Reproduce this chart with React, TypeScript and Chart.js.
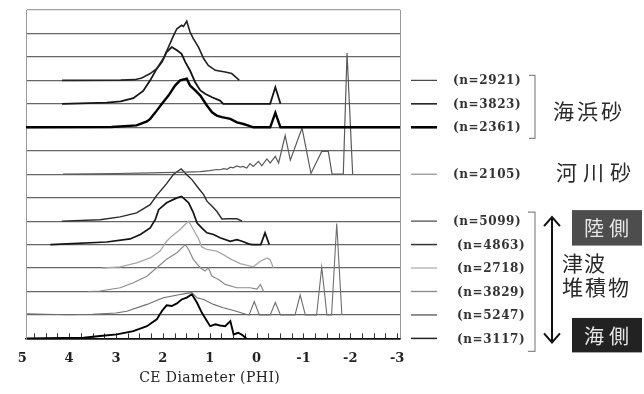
import React, { useEffect, useRef } from 'react';
import { Chart, registerables } from 'chart.js';

Chart.register(...registerables);

// ---- Data: CE diameter (phi) and relative frequency (in row units) ----
const PHI_2921 = [4.15, 2.9, 2.6, 2.45, 2.27, 2.13, 1.99, 1.88, 1.77, 1.7, 1.6, 1.56, 1.49, 1.42, 1.35, 1.24, 1.13, 1.03, 0.88, 0.67, 0.53, 0.39, 0.37];
const VAL_2921 = [0, 0.01, 0.03, 0.1, 0.29, 0.5, 0.93, 1.42, 1.92, 2.2, 2.35, 2.3, 2.52, 2.06, 1.78, 1.42, 0.93, 0.64, 0.43, 0.36, 0.29, 0.04, 0];

const PHI_3823 = [4.15, 3.2, 2.9, 2.63, 2.42, 2.27, 2.13, 2.02, 1.92, 1.81, 1.7, 1.6, 1.52, 1.42, 1.31, 1.2, 1.1, 0.95, 0.78, 0.71, -0.29, -0.4, -0.51];
const VAL_3823 = [0, 0.05, 0.1, 0.24, 0.55, 1.0, 1.5, 1.78, 2.2, 2.42, 2.28, 2.13, 1.78, 1.42, 0.92, 0.57, 0.43, 0.28, 0.14, 0, 0, 0.71, 0];

const PHI_2361 = [4.92, 3.1, 2.56, 2.34, 2.27, 2.13, 2.02, 1.88, 1.74, 1.63, 1.49, 1.42, 1.31, 1.2, 1.06, 0.95, 0.85, 0.74, 0.56, 0.42, 0.28, 0.14, 0.07, -0.29, -0.4, -0.51, -3.06];
const VAL_2361 = [0, 0.01, 0.08, 0.25, 0.36, 0.71, 1.0, 1.35, 1.78, 2.0, 2.07, 1.78, 1.57, 1.35, 0.93, 0.64, 0.5, 0.43, 0.36, 0.21, 0.14, 0.05, 0, 0, 0.62, 0, 0];

const PHI_2105 = [4.13, 3.5, 3.0, 2.5, 2.0, 1.5, 1.2, 1.0, 0.85, 0.78, 0.7, 0.63, 0.56, 0.5, 0.42, 0.35, 0.29, 0.21, 0.14, 0.07, -0.04, -0.11, -0.22, -0.29, -0.4, -0.47, -0.61, -0.72, -0.97, -1.16, -1.39, -1.53, -1.61, -1.85, -1.93, -2.05];
const VAL_2105 = [0, 0.01, 0.03, 0.05, 0.07, 0.09, 0.11, 0.15, 0.2, 0.19, 0.24, 0.21, 0.3, 0.27, 0.35, 0.3, 0.33, 0.26, 0.45, 0.33, 0.55, 0.36, 0.65, 0.48, 0.76, 0.48, 1.65, 0.6, 1.97, 0.03, 0.97, 0.97, 0, 0, 5.17, 0];

const PHI_5099 = [4.15, 3.34, 2.91, 2.56, 2.27, 2.13, 1.92, 1.77, 1.61, 1.49, 1.38, 1.24, 1.13, 1.06, 0.95, 0.85, 0.74, 0.6, 0.42, 0.31];
const VAL_5099 = [0, 0.06, 0.18, 0.35, 0.7, 1.1, 1.6, 2.0, 2.23, 1.98, 1.77, 1.4, 1.13, 0.85, 0.63, 0.42, 0.09, 0.1, 0.1, 0];

const PHI_4863 = [4.4, 3.2, 2.7, 2.48, 2.27, 2.16, 2.09, 1.92, 1.7, 1.6, 1.45, 1.35, 1.27, 1.17, 1.06, 0.92, 0.78, 0.56, 0.42, 0.31, 0.17, 0.1, -0.09, -0.18, -0.27];
const VAL_4863 = [0, 0.11, 0.24, 0.43, 0.71, 1.07, 1.49, 1.78, 1.99, 2.05, 1.78, 1.36, 0.92, 0.71, 0.5, 0.43, 0.29, 0.14, 0.21, 0.14, 0.03, 0, 0, 0.5, 0];

const PHI_2718 = [3.3, 2.91, 2.56, 2.27, 2.06, 1.92, 1.81, 1.63, 1.49, 1.45, 1.35, 1.24, 1.17, 1.06, 0.85, 0.71, 0.53, 0.35, 0.07, -0.08, -0.22, -0.29, -0.36];
const VAL_2718 = [0, 0.05, 0.22, 0.43, 0.72, 1.14, 1.36, 1.64, 1.93, 2.0, 1.64, 1.25, 0.9, 0.79, 0.72, 0.57, 0.36, 0.19, 0.05, 0.29, 0.43, 0.35, 0];

const PHI_3829 = [3.6, 3.34, 2.91, 2.63, 2.34, 2.13, 1.92, 1.7, 1.52, 1.45, 1.35, 1.2, 1.1, 1.03, 0.95, 0.81, 0.67, 0.42, 0.14, -0.01, -0.08, -0.15];
const VAL_3829 = [0, 0.02, 0.16, 0.37, 0.65, 1.01, 1.37, 1.65, 2.0, 1.79, 1.37, 1.01, 0.87, 1.01, 0.65, 0.51, 0.3, 0.16, 0.16, 0.1, 0.3, 0];

const PHI_5247 = [4.9, 4.5, 4.0, 3.5, 3.0, 2.77, 2.34, 1.99, 1.63, 1.49, 1.38, 1.27, 1.13, 0.92, 0.71, 0.49, 0.21, 0.16, 0.05, -0.06, -0.29, -0.4, -0.51, -0.82, -0.93, -1.04, -1.28, -1.39, -1.5, -1.6, -1.71, -1.82];
const VAL_5247 = [0.05, 0.03, 0.01, 0.03, 0.08, 0.16, 0.45, 0.73, 0.87, 0.92, 0.95, 0.73, 0.66, 0.45, 0.31, 0.19, 0.02, 0, 0.57, 0, 0, 0.53, 0, 0, 0.85, 0, 0, 2.04, 0, 0, 3.9, 0];

const PHI_3117 = [4.9, 3.69, 3.34, 2.98, 2.63, 2.34, 2.13, 2.02, 1.92, 1.81, 1.7, 1.6, 1.49, 1.38, 1.27, 1.17, 1.06, 0.99, 0.88, 0.78, 0.67, 0.56, 0.49, 0.39, 0.31, 0.22];
const VAL_3117 = [0, 0.03, 0.1, 0.17, 0.31, 0.52, 0.81, 1.17, 1.41, 1.38, 1.49, 1.66, 1.74, 1.88, 1.52, 1.1, 0.74, 0.52, 0.6, 0.55, 0.52, 0.74, 0.17, 0.24, 0.15, 0];

const SAMPLE_LABELS = ['(n=2921)', '(n=3823)', '(n=2361)', '(n=2105)', '(n=5099)', '(n=4863)', '(n=2718)', '(n=3829)', '(n=5247)', '(n=3117)'];
const BASELINES = [11, 10, 9, 7, 5, 4, 3, 2, 1, 0];
const X_TICKS = [5, 4, 3, 2, 1, 0, -1, -2, -3];
const X_TITLE = 'CE Diameter (PHI)';
const GROUP_BEACH = '海浜砂';
const GROUP_RIVER = '河川砂';
const GROUP_TSUNAMI_1 = '津波';
const GROUP_TSUNAMI_2 = '堆積物';
const LAND_SIDE = '陸側';
const SEA_SIDE = '海側';

const SERIES_PHI = [PHI_2921, PHI_3823, PHI_2361, PHI_2105, PHI_5099, PHI_4863, PHI_2718, PHI_3829, PHI_5247, PHI_3117];
const SERIES_VAL = [VAL_2921, VAL_3823, VAL_2361, VAL_2105, VAL_5099, VAL_4863, VAL_2718, VAL_3829, VAL_5247, VAL_3117];

// styles
const COLORS = ['#222', '#151515', '#000', '#5a5a5a', '#2a2a2a', '#141414', '#a8a8a8', '#8a8a8a', '#6e6e6e', '#000'];
const WIDTHS = [1.6, 1.8, 2.4, 1.2, 1.4, 1.7, 1.3, 1.2, 1.1, 1.9];
const DASH_COLORS = ['#444', '#222', '#000', '#777', '#444', '#333', '#aaa', '#888', '#555', '#222'];
const DASH_WIDTHS = [1.2, 1.6, 2.6, 1, 1.2, 1.5, 1.2, 1.3, 1.3, 1.5];
const LABEL_X = [453, 453, 453, 453, 453, 457, 457, 457, 457, 457];

const SERIF = '"DejaVu Serif", serif';
const CJK = '"Noto Sans CJK JP", sans-serif';

function drawSpaced(ctx: CanvasRenderingContext2D, text: string, x: number, y: number, spacing: number) {
  let cx = x;
  for (const ch of Array.from(text)) {
    ctx.fillText(ch, cx, y);
    cx += ctx.measureText(ch).width + spacing;
  }
}

const decorPlugin = {
  id: 'decor',
  beforeDatasetsDraw(chart: any) {
    const { ctx, chartArea } = chart;
    const xs = chart.scales.x;
    ctx.save();
    ctx.strokeStyle = '#9a9a9a';
    ctx.lineWidth = 1;
    ctx.beginPath();
    ctx.moveTo(Math.round(chartArea.right) + 0.5, chartArea.top);
    ctx.lineTo(Math.round(chartArea.right) + 0.5, chartArea.bottom);
    ctx.stroke();
    ctx.strokeStyle = '#333';
    ctx.beginPath();
    for (let v = 4.75; v >= -3.001; v -= 0.25) {
      const px = Math.round(xs.getPixelForValue(v)) + 0.5;
      ctx.moveTo(px, chartArea.bottom);
      ctx.lineTo(px, chartArea.bottom - 5);
    }
    ctx.stroke();
    ctx.restore();
  },
  afterDraw(chart: any) {
    const { ctx, chartArea } = chart;
    const ys = chart.scales.y;
    const xs = chart.scales.x;
    ctx.save();
    // axis title
    ctx.fillStyle = '#222';
    ctx.font = `14px ${SERIF}`;
    (ctx as any).letterSpacing = '0.4px';
    ctx.textAlign = 'center';
    ctx.textBaseline = 'middle';
    ctx.fillText(X_TITLE, (xs.getPixelForValue(1.5) + xs.getPixelForValue(0.5)) / 2, 378);

    // dashes and n labels
    ctx.font = `bold 12px ${SERIF}`;
    (ctx as any).letterSpacing = '0.6px';
    ctx.textAlign = 'left';
    SAMPLE_LABELS.forEach((lab, i) => {
      const py = ys.getPixelForValue(BASELINES[i]);
      ctx.strokeStyle = DASH_COLORS[i];
      ctx.lineWidth = DASH_WIDTHS[i];
      ctx.beginPath();
      ctx.moveTo(chartArea.right + 11, py);
      ctx.lineTo(chartArea.right + 37, py);
      ctx.stroke();
      ctx.fillStyle = '#333';
      ctx.fillText(lab, LABEL_X[i], py + 1);
    });
    (ctx as any).letterSpacing = '0px';

    // brackets
    ctx.strokeStyle = '#888';
    ctx.lineWidth = 1.2;
    const b1t = ys.getPixelForValue(11) - 5;
    const b1b = ys.getPixelForValue(9) + 11;
    ctx.beginPath();
    ctx.moveTo(529, b1t); ctx.lineTo(535, b1t); ctx.lineTo(535, b1b); ctx.lineTo(529, b1b);
    ctx.stroke();
    const b2t = ys.getPixelForValue(5) - 9;
    const b2b = ys.getPixelForValue(0) + 13;
    ctx.beginPath();
    ctx.moveTo(528, b2t); ctx.lineTo(535, b2t); ctx.lineTo(535, b2b); ctx.lineTo(528, b2b);
    ctx.stroke();

    // double arrow
    const ax = 552, at = ys.getPixelForValue(5) - 4, ab = ys.getPixelForValue(0) + 4;
    ctx.strokeStyle = '#111';
    ctx.lineWidth = 2;
    ctx.beginPath();
    ctx.moveTo(ax, at); ctx.lineTo(ax, ab);
    ctx.moveTo(ax - 8, at + 9); ctx.lineTo(ax, at); ctx.lineTo(ax + 8, at + 9);
    ctx.moveTo(ax - 8, ab - 9); ctx.lineTo(ax, ab); ctx.lineTo(ax + 8, ab - 9);
    ctx.stroke();

    // Japanese group labels
    ctx.fillStyle = '#2a2a2a';
    ctx.font = `21px ${CJK}`;
    ctx.textBaseline = 'middle';
    drawSpaced(ctx, GROUP_BEACH, 553, ys.getPixelForValue(9.7), 3);
    drawSpaced(ctx, GROUP_RIVER, 556, ys.getPixelForValue(7.08), 6);
    drawSpaced(ctx, GROUP_TSUNAMI_1, 562, ys.getPixelForValue(3.2), 1);
    drawSpaced(ctx, GROUP_TSUNAMI_2, 562, ys.getPixelForValue(2.2), 2);

    // boxes
    const box1t = ys.getPixelForValue(5) - 11, box1b = ys.getPixelForValue(4) + 1;
    ctx.fillStyle = '#4d4d4d';
    ctx.fillRect(572, box1t, 70, box1b - box1t);
    const box2t = ys.getPixelForValue(1) + 3, box2b = ys.getPixelForValue(0) + 14;
    ctx.fillStyle = '#222';
    ctx.fillRect(572, box2t, 70, box2b - box2t);
    ctx.fillStyle = '#e6e6e6';
    ctx.font = `20px ${CJK}`;
    drawSpaced(ctx, LAND_SIDE, 584, (box1t + box1b) / 2 + 1, 5);
    drawSpaced(ctx, SEA_SIDE, 584, (box2t + box2b) / 2 + 1, 5);
    ctx.restore();
  },
};

export default function App() {
  const ref = useRef<HTMLCanvasElement>(null);
  useEffect(() => {
    document.body.style.margin = '0';
    const datasets = SAMPLE_LABELS.map((lab, i) => ({
      label: lab,
      data: SERIES_PHI[i].map((p, j) => ({ x: p, y: BASELINES[i] + SERIES_VAL[i][j] })),
      borderColor: COLORS[i],
      borderWidth: WIDTHS[i],
      pointRadius: 0,
      tension: 0,
      fill: false,
    }));
    const chart = new Chart(ref.current!, {
      type: 'line',
      data: { datasets },
      plugins: [decorPlugin],
      options: {
        animation: false,
        responsive: false,
        devicePixelRatio: 1,
        events: [],
        layout: { padding: { left: 26, right: 244, top: 10, bottom: 16 } },
        plugins: { legend: { display: false }, tooltip: { enabled: false } },
        scales: {
          x: {
            type: 'linear',
            reverse: true,
            min: -3.06,
            max: 4.92,
            afterBuildTicks: (scale: any) => {
              scale.ticks = X_TICKS.map((v) => ({ value: v }));
            },
            grid: { display: false, drawTicks: false },
            border: { display: true, color: '#111', width: 1.5 },
            ticks: {
              autoSkip: false,
              maxRotation: 0,
              padding: 12,
              color: '#222',
              font: { family: SERIF, size: 13, weight: 'bold' },
              callback: (v: any) => String(v),
            },
            title: { display: false },
          },
          y: {
            type: 'linear',
            min: 0,
            max: 14,
            ticks: { display: false, stepSize: 1 },
            grid: {
              drawTicks: false,
              color: (c: any) => (c.tick && c.tick.value === 14 ? '#a0a0a0' : c.tick && c.tick.value === 0 ? '#111' : '#666'),
              lineWidth: (c: any) => (c.tick && c.tick.value === 0 ? 1.5 : 1.2),
            },
            border: { display: true, color: '#9a9a9a', width: 1 },
          },
        },
      },
    } as any);
    return () => chart.destroy();
  }, []);
  return (
    <div style={{ width: 644, height: 394, background: '#fff' }}>
      <canvas ref={ref} width={644} height={394} style={{ display: 'block', width: 644, height: 394 }} />
    </div>
  );
}
